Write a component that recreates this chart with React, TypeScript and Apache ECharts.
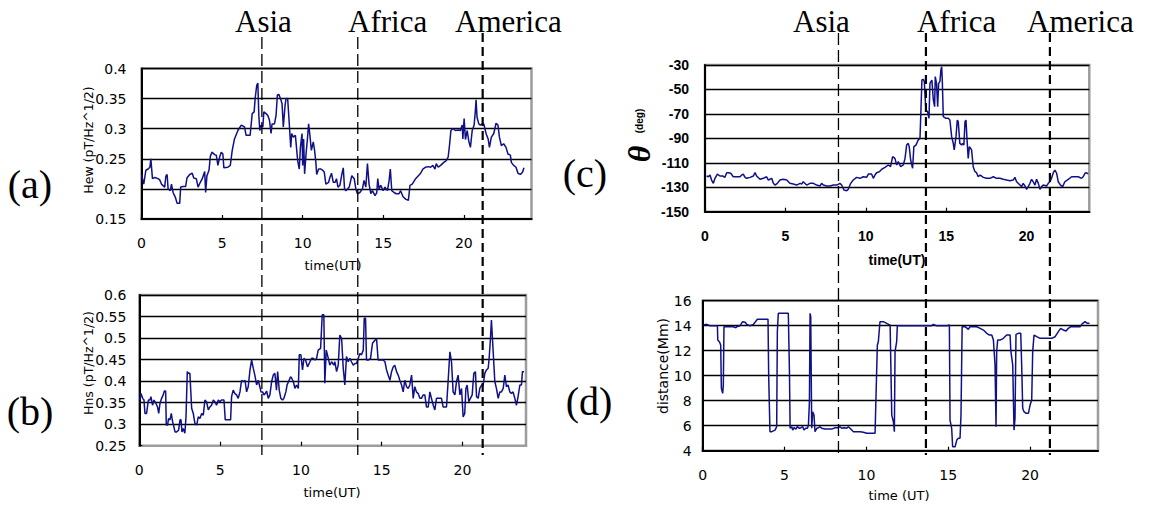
import React, { useEffect, useRef } from "react";
import * as echarts from "echarts";

// (a) Hew (pT/Hz^1/2) vs time (UT)
const hewData: [number, number][] = [
  [0, 0.224], [0.14, 0.208], [0.27, 0.231], [0.41, 0.233], [0.52, 0.236], [0.58, 0.25], [0.68, 0.217], [0.82, 0.219],
  [1.03, 0.217], [1.13, 0.215], [1.24, 0.208], [1.44, 0.203], [1.51, 0.221], [1.59, 0.224], [1.65, 0.2], [1.79, 0.197],
  [1.86, 0.208], [1.96, 0.194], [2.1, 0.186], [2.21, 0.176], [2.37, 0.176], [2.43, 0.203], [2.58, 0.204], [2.74, 0.204],
  [2.82, 0.218], [2.99, 0.224], [3.15, 0.226], [3.24, 0.218], [3.4, 0.217], [3.51, 0.203], [3.65, 0.211], [3.77, 0.217],
  [3.92, 0.229], [3.98, 0.194], [4.06, 0.222], [4.19, 0.231], [4.27, 0.254], [4.37, 0.261], [4.54, 0.257], [4.64, 0.256],
  [4.74, 0.239], [4.85, 0.253], [4.95, 0.261], [5.05, 0.258], [5.11, 0.235], [5.36, 0.236], [5.51, 0.239], [5.63, 0.264],
  [5.77, 0.283], [5.98, 0.297], [6.19, 0.306], [6.39, 0.303], [6.49, 0.289], [6.74, 0.289], [6.87, 0.325], [6.99, 0.328],
  [7.05, 0.35], [7.15, 0.372], [7.22, 0.376], [7.28, 0.322], [7.34, 0.297], [7.42, 0.306], [7.53, 0.303], [7.59, 0.328],
  [7.73, 0.325], [7.84, 0.322], [7.94, 0.314], [8.04, 0.292], [8.1, 0.308], [8.25, 0.308], [8.35, 0.322], [8.43, 0.356],
  [8.52, 0.357], [8.62, 0.35], [8.72, 0.342], [8.8, 0.303], [8.91, 0.339], [8.97, 0.35], [9.07, 0.35], [9.18, 0.304],
  [9.26, 0.269], [9.32, 0.292], [9.42, 0.286], [9.55, 0.289], [9.69, 0.247], [9.79, 0.233], [9.86, 0.269], [9.96, 0.292],
  [10.0, 0.239], [10.06, 0.283], [10.12, 0.225], [10.21, 0.258], [10.29, 0.281], [10.37, 0.308], [10.45, 0.289], [10.54, 0.264],
  [10.66, 0.278], [10.74, 0.264], [10.82, 0.244], [10.87, 0.224], [10.99, 0.233], [11.13, 0.233], [11.24, 0.231], [11.34, 0.228],
  [11.44, 0.208], [11.61, 0.211], [11.69, 0.219], [11.79, 0.226], [11.9, 0.211], [12.02, 0.211], [12.1, 0.217], [12.19, 0.203],
  [12.31, 0.206], [12.43, 0.224], [12.52, 0.235], [12.6, 0.2], [12.68, 0.197], [12.89, 0.203], [13.05, 0.222], [13.2, 0.217],
  [13.3, 0.2], [13.4, 0.192], [13.55, 0.194], [13.71, 0.2], [13.81, 0.214], [13.92, 0.203], [14.02, 0.242], [14.12, 0.208],
  [14.23, 0.192], [14.33, 0.197], [14.49, 0.189], [14.6, 0.194], [14.66, 0.217], [14.74, 0.2], [14.85, 0.206], [14.99, 0.197],
  [15.11, 0.203], [15.26, 0.197], [15.36, 0.213], [15.44, 0.233], [15.53, 0.197], [15.67, 0.194], [15.81, 0.192], [15.98, 0.192],
  [16.08, 0.197], [16.23, 0.187], [16.39, 0.183], [16.56, 0.181], [16.66, 0.206], [16.8, 0.208], [17.01, 0.217], [17.18, 0.222],
  [17.32, 0.226], [17.46, 0.233], [17.63, 0.236], [17.79, 0.237], [17.94, 0.236], [18.08, 0.239], [18.21, 0.233], [18.29, 0.242],
  [18.41, 0.236], [18.56, 0.239], [18.76, 0.244], [18.91, 0.247], [19.03, 0.253], [19.11, 0.272], [19.2, 0.297], [19.32, 0.3],
  [19.48, 0.297], [19.65, 0.298], [19.79, 0.297], [19.9, 0.306], [19.94, 0.283], [20.02, 0.317], [20.1, 0.282], [20.21, 0.297],
  [20.31, 0.279], [20.41, 0.269], [20.52, 0.297], [20.64, 0.306], [20.72, 0.331], [20.76, 0.348], [20.82, 0.319], [20.93, 0.308],
  [21.03, 0.306], [21.13, 0.308], [21.24, 0.308], [21.38, 0.292], [21.51, 0.283], [21.59, 0.269], [21.71, 0.286], [21.86, 0.292],
  [22.0, 0.309], [22.12, 0.306], [22.21, 0.286], [22.33, 0.272], [22.47, 0.275], [22.62, 0.269], [22.74, 0.258], [22.89, 0.256],
  [22.95, 0.244], [23.09, 0.239], [23.24, 0.236], [23.36, 0.226], [23.51, 0.224], [23.65, 0.228], [23.73, 0.235],
];

// (b) Hns (pT/Hz^1/2) vs time (UT)
const hnsData: [number, number][] = [
  [0.04, 0.356], [0.1, 0.371], [0.21, 0.36], [0.29, 0.356], [0.35, 0.325], [0.45, 0.325], [0.56, 0.356], [0.66, 0.356],
  [0.72, 0.364], [0.82, 0.344], [0.91, 0.356], [1.03, 0.348], [1.13, 0.34], [1.2, 0.325], [1.28, 0.348], [1.38, 0.36],
  [1.48, 0.368], [1.55, 0.377], [1.63, 0.377], [1.67, 0.298], [1.75, 0.298], [1.81, 0.313], [1.9, 0.31], [1.98, 0.325],
  [2.06, 0.306], [2.14, 0.294], [2.21, 0.282], [2.31, 0.282], [2.43, 0.286], [2.52, 0.31], [2.58, 0.31], [2.64, 0.282],
  [2.72, 0.29], [2.82, 0.279], [2.89, 0.317], [2.97, 0.422], [3.05, 0.418], [3.13, 0.418], [3.24, 0.337], [3.34, 0.325],
  [3.44, 0.302], [3.55, 0.298], [3.65, 0.317], [3.75, 0.313], [3.86, 0.325], [3.96, 0.321], [4.06, 0.356], [4.16, 0.352],
  [4.27, 0.333], [4.37, 0.34], [4.47, 0.344], [4.58, 0.356], [4.68, 0.352], [4.78, 0.344], [4.89, 0.356], [4.99, 0.352],
  [5.09, 0.356], [5.24, 0.356], [5.32, 0.31], [5.51, 0.31], [5.65, 0.31], [5.71, 0.364], [5.81, 0.379], [5.92, 0.371],
  [6.02, 0.368], [6.12, 0.36], [6.23, 0.375], [6.33, 0.402], [6.43, 0.399], [6.54, 0.402], [6.64, 0.375], [6.74, 0.387],
  [6.85, 0.426], [6.95, 0.449], [7.05, 0.43], [7.15, 0.414], [7.26, 0.391], [7.36, 0.402], [7.46, 0.387], [7.53, 0.375],
  [7.63, 0.375], [7.71, 0.368], [7.79, 0.371], [7.88, 0.377], [7.98, 0.36], [8.08, 0.368], [8.19, 0.399], [8.29, 0.414],
  [8.39, 0.418], [8.49, 0.379], [8.56, 0.422], [8.66, 0.379], [8.76, 0.36], [8.87, 0.356], [8.95, 0.36], [9.07, 0.375],
  [9.15, 0.392], [9.24, 0.399], [9.36, 0.41], [9.44, 0.406], [9.53, 0.399], [9.63, 0.383], [9.73, 0.391], [9.84, 0.383],
  [9.9, 0.461], [10.0, 0.461], [10.1, 0.426], [10.19, 0.453], [10.29, 0.449], [10.41, 0.433], [10.56, 0.445], [10.66, 0.453],
  [10.76, 0.453], [10.87, 0.449], [10.97, 0.453], [11.07, 0.472], [11.22, 0.476], [11.32, 0.554], [11.42, 0.554], [11.48, 0.395],
  [11.57, 0.472], [11.67, 0.457], [11.79, 0.437], [11.9, 0.445], [12.04, 0.437], [12.1, 0.445], [12.21, 0.422], [12.31, 0.437],
  [12.41, 0.507], [12.52, 0.499], [12.62, 0.43], [12.72, 0.391], [12.82, 0.457], [12.93, 0.445], [13.03, 0.453], [13.13, 0.445],
  [13.24, 0.437], [13.34, 0.441], [13.44, 0.441], [13.55, 0.453], [13.65, 0.464], [13.75, 0.461], [13.86, 0.472], [13.92, 0.546],
  [14.0, 0.546], [14.06, 0.449], [14.19, 0.449], [14.31, 0.453], [14.43, 0.488], [14.58, 0.495], [14.68, 0.499], [14.78, 0.449],
  [14.99, 0.449], [15.09, 0.449], [15.2, 0.445], [15.3, 0.426], [15.4, 0.414], [15.51, 0.402], [15.61, 0.422], [15.71, 0.433],
  [15.81, 0.437], [15.92, 0.422], [16.02, 0.414], [16.12, 0.402], [16.23, 0.391], [16.33, 0.375], [16.43, 0.402], [16.54, 0.387],
  [16.64, 0.383], [16.74, 0.391], [16.85, 0.414], [16.95, 0.36], [17.05, 0.387], [17.15, 0.375], [17.26, 0.371], [17.36, 0.36],
  [17.46, 0.36], [17.57, 0.368], [17.67, 0.368], [17.77, 0.34], [17.88, 0.34], [17.98, 0.375], [18.08, 0.36], [18.19, 0.344],
  [18.29, 0.333], [18.39, 0.36], [18.49, 0.36], [18.6, 0.36], [18.7, 0.36], [18.8, 0.34], [18.91, 0.34], [19.01, 0.34],
  [19.11, 0.399], [19.22, 0.468], [19.32, 0.445], [19.42, 0.375], [19.53, 0.368], [19.63, 0.399], [19.73, 0.414], [19.84, 0.368],
  [19.94, 0.383], [20.04, 0.317], [20.14, 0.325], [20.21, 0.383], [20.29, 0.391], [20.39, 0.352], [20.49, 0.36], [20.6, 0.368],
  [20.7, 0.418], [20.8, 0.422], [20.87, 0.364], [20.97, 0.36], [21.07, 0.383], [21.18, 0.391], [21.28, 0.391], [21.38, 0.418],
  [21.48, 0.426], [21.59, 0.43], [21.65, 0.453], [21.73, 0.499], [21.79, 0.542], [21.9, 0.468], [22.0, 0.399], [22.1, 0.383],
  [22.21, 0.36], [22.31, 0.375], [22.41, 0.375], [22.52, 0.383], [22.62, 0.414], [22.72, 0.387], [22.82, 0.391], [22.93, 0.375],
  [23.03, 0.371], [23.13, 0.375], [23.24, 0.36], [23.34, 0.344], [23.44, 0.364], [23.55, 0.391], [23.65, 0.391], [23.71, 0.422],
  [23.81, 0.422],
];

// (c) theta (deg) vs time (UT)
const thetaData: [number, number][] = [
  [0.1, -120.8], [0.21, -121.4], [0.31, -120.0], [0.41, -124.1], [0.52, -126.8], [0.62, -122.7], [0.77, -119.2], [0.93, -120.8],
  [1.1, -120.8], [1.24, -121.9], [1.35, -118.1], [1.45, -118.1], [1.6, -118.6], [1.76, -121.4], [1.97, -121.4], [2.18, -121.4],
  [2.28, -120.0], [2.38, -119.2], [2.49, -121.9], [2.59, -122.7], [2.8, -121.9], [3.01, -120.8], [3.11, -118.1], [3.21, -120.8],
  [3.42, -123.5], [3.63, -122.7], [3.83, -121.4], [3.94, -124.1], [4.15, -122.7], [4.25, -126.8], [4.35, -128.2], [4.5, -126.8],
  [4.66, -124.1], [4.87, -123.5], [5.08, -124.1], [5.28, -126.8], [5.49, -127.4], [5.7, -128.2], [5.91, -126.8], [6.01, -127.4],
  [6.11, -125.5], [6.32, -128.2], [6.53, -126.8], [6.74, -126.8], [6.94, -128.2], [7.15, -129.0], [7.25, -126.8], [7.36, -128.2],
  [7.56, -129.0], [7.77, -129.0], [7.98, -128.2], [8.19, -128.2], [8.39, -126.8], [8.5, -128.2], [8.64, -132.3], [8.81, -132.8],
  [8.91, -131.7], [9.06, -126.8], [9.22, -124.1], [9.43, -121.9], [9.64, -122.7], [9.84, -121.4], [10.05, -121.9], [10.16, -119.2],
  [10.36, -119.2], [10.47, -122.7], [10.57, -120.0], [10.67, -118.1], [10.84, -117.3], [10.98, -115.4], [11.19, -113.7], [11.4, -111.8],
  [11.54, -113.2], [11.67, -105.0], [11.81, -106.4], [11.92, -111.8], [12.02, -109.1], [12.17, -113.2], [12.33, -111.8], [12.44, -106.4],
  [12.54, -95.5], [12.64, -94.1], [12.7, -96.8], [12.79, -107.7], [12.91, -114.5], [12.99, -96.8], [13.12, -95.5], [13.26, -91.4],
  [13.37, -90.0], [13.43, -66.8], [13.49, -42.3], [13.58, -41.7], [13.64, -43.6], [13.7, -58.6], [13.74, -66.8], [13.84, -68.2],
  [13.93, -73.6], [13.99, -45.0], [14.05, -43.6], [14.11, -42.3], [14.2, -58.6], [14.28, -64.1], [14.32, -39.5], [14.4, -45.0],
  [14.47, -64.1], [14.53, -45.0], [14.61, -43.6], [14.67, -34.1], [14.72, -31.4], [14.76, -43.6], [14.82, -72.3], [14.98, -73.6],
  [15.13, -73.6], [15.23, -75.0], [15.34, -88.6], [15.44, -94.1], [15.5, -99.5], [15.61, -88.6], [15.69, -75.0], [15.75, -76.4],
  [15.85, -94.1], [15.96, -95.5], [16.02, -94.1], [16.1, -95.5], [16.17, -76.4], [16.23, -75.0], [16.31, -94.1], [16.37, -106.4],
  [16.44, -96.8], [16.52, -98.2], [16.58, -99.5], [16.68, -113.2], [16.79, -117.3], [16.89, -118.1], [16.99, -121.4], [17.1, -120.0],
  [17.2, -120.8], [17.31, -121.9], [17.51, -122.7], [17.72, -122.7], [17.93, -121.4], [18.13, -122.7], [18.34, -122.7], [18.55, -123.5],
  [18.76, -124.1], [18.96, -124.6], [19.17, -124.1], [19.27, -121.9], [19.38, -125.5], [19.59, -128.2], [19.69, -129.5], [19.79, -126.8],
  [19.9, -129.0], [20.0, -131.7], [20.1, -129.5], [20.21, -126.8], [20.31, -123.5], [20.41, -125.5], [20.52, -128.2], [20.62, -123.5],
  [20.73, -126.8], [20.83, -131.7], [20.93, -129.5], [21.04, -128.2], [21.24, -129.0], [21.35, -126.8], [21.45, -125.5], [21.55, -122.7],
  [21.66, -118.1], [21.76, -115.9], [21.87, -118.6], [21.97, -125.5], [22.11, -128.2], [22.24, -129.5], [22.38, -125.5], [22.59, -123.5],
  [22.8, -121.4], [23.01, -121.4], [23.21, -121.4], [23.42, -122.7], [23.52, -121.4], [23.63, -118.6], [23.73, -118.1], [23.83, -119.2],
];

// (d) distance (Mm) vs time (UT)
const distanceData: [number, number][] = [
  [0.04, 14.05], [0.24, 14.11], [0.45, 14.0], [0.75, 14.0], [0.9, 14.0], [0.92, 12.85], [1.02, 12.72], [1.1, 12.45],
  [1.14, 8.99], [1.22, 8.59], [1.26, 9.25], [1.3, 13.92], [1.47, 13.92], [1.87, 13.92], [2.04, 13.84], [2.08, 13.92],
  [2.28, 14.0], [2.44, 14.32], [2.59, 14.27], [2.69, 14.11], [2.89, 14.0], [3.1, 14.11], [3.2, 14.27], [3.34, 14.51],
  [3.6, 14.51], [3.91, 14.51], [3.99, 14.51], [4.03, 10.05], [4.11, 5.52], [4.22, 5.52], [4.42, 5.65], [4.52, 5.92],
  [4.56, 13.52], [4.62, 14.99], [4.73, 14.99], [5.13, 14.99], [5.23, 14.99], [5.3, 10.32], [5.34, 5.79], [5.44, 5.92],
  [5.5, 5.65], [5.58, 5.84], [5.7, 5.73], [5.78, 5.92], [5.91, 5.79], [6.01, 5.84], [6.11, 5.92], [6.19, 5.65],
  [6.29, 5.79], [6.4, 5.79], [6.46, 6.05], [6.52, 7.92], [6.56, 14.99], [6.6, 14.72], [6.66, 5.79], [6.72, 7.12],
  [6.8, 6.85], [6.86, 5.52], [6.97, 5.79], [7.07, 5.84], [7.17, 5.92], [7.27, 5.79], [7.47, 5.73], [7.68, 5.73],
  [7.88, 5.73], [8.09, 5.84], [8.29, 5.84], [8.39, 5.92], [8.49, 5.79], [8.64, 5.84], [8.8, 5.79], [8.9, 5.92],
  [9.0, 5.79], [9.21, 5.52], [9.41, 5.52], [9.61, 5.52], [9.82, 5.47], [10.02, 5.39], [10.22, 5.39], [10.43, 5.39],
  [10.53, 5.39], [10.59, 8.45], [10.67, 12.45], [10.73, 12.72], [10.83, 14.32], [11.04, 14.32], [11.24, 14.19], [11.45, 14.05],
  [11.55, 6.85], [11.65, 6.32], [11.71, 5.52], [11.75, 11.92], [11.85, 12.72], [11.89, 14.0], [12.06, 14.0], [12.5, 14.0],
  [13.0, 14.0], [13.5, 14.0], [13.99, 14.0], [14.09, 14.11], [14.26, 14.0], [14.91, 14.0], [15.07, 14.05], [15.11, 6.45],
  [15.21, 5.79], [15.27, 4.32], [15.42, 4.32], [15.52, 4.85], [15.62, 4.99], [15.72, 4.99], [15.78, 6.85], [15.85, 13.92],
  [16.03, 13.92], [16.23, 13.71], [16.33, 13.92], [16.54, 13.92], [16.74, 13.92], [16.95, 13.79], [17.15, 13.65], [17.35, 13.39],
  [17.52, 13.25], [17.66, 13.25], [17.76, 12.85], [17.86, 10.85], [17.92, 5.92], [17.96, 11.92], [18.02, 12.85], [18.17, 12.85],
  [18.37, 12.99], [18.57, 13.25], [18.78, 13.25], [18.82, 12.05], [18.94, 10.85], [19.02, 5.65], [19.08, 6.59], [19.14, 13.31],
  [19.29, 13.39], [19.43, 13.39], [19.49, 10.72], [19.55, 7.39], [19.63, 7.12], [19.76, 6.99], [19.9, 6.99], [20.0, 7.65],
  [20.1, 8.05], [20.16, 11.92], [20.24, 13.25], [20.41, 13.12], [20.61, 12.99], [20.92, 12.99], [21.12, 12.99], [21.32, 12.99],
  [21.53, 13.12], [21.73, 13.52], [21.87, 13.79], [22.04, 13.65], [22.2, 13.57], [22.34, 13.79], [22.48, 13.92], [22.65, 13.92],
  [22.85, 13.92], [23.05, 13.92], [23.22, 14.19], [23.36, 14.32], [23.5, 14.19], [23.63, 14.19],
];

const regionNames = ["Asia", "Africa", "America"];
const regionTimesLeft = [7.47, 13.42, 21.17];
const regionTimesRight = [8.3, 13.74, 21.45];

const panelLetters = ["(a)", "(b)", "(c)", "(d)"];

const LINE = "#101088";
const SANS = "DejaVu Sans";
const SERIF = "Liberation Serif";

export default function App() {
  const ref = useRef<HTMLDivElement>(null);

  useEffect(() => {
    if (!ref.current) return;
    const chart = echarts.init(ref.current, undefined, { renderer: "svg" });

    const grids = [
      { left: 141.5, top: 68.5, width: 390, height: 150.5 },
      { left: 139.3, top: 295, width: 386.7, height: 150.7 },
      { left: 705, top: 65, width: 384.3, height: 146.7 },
      { left: 702.7, top: 300.7, width: 395.3, height: 150 },
    ].map((g) => ({
      ...g,
      show: true,
      borderColor: "#9c9c9c",
      borderWidth: 2.5,
      backgroundColor: "transparent",
    }));

    const xMax = [24.2, 23.93, 23.9, 24.15];
    const bold = [false, false, true, false];
    const xLineShow = [true, false, true, true];

    const xAxes = xMax.map((mx, i) => ({
      type: "value",
      gridIndex: i,
      min: 0,
      max: mx,
      interval: 5,
      axisLine: { show: xLineShow[i], lineStyle: { color: "#000", width: 2 } },
      axisTick: { show: true, inside: true, length: 4, lineStyle: { color: "#000", width: 1.2 } },
      splitLine: { show: false },
      axisLabel: {
        margin: 17,
        showMaxLabel: false,
        color: "#000",
        fontFamily: bold[i] ? "Liberation Sans" : SANS,
        fontWeight: bold[i] ? "bold" : "normal",
        fontSize: 14,
        formatter: (v: number) => (Math.abs(v % 5) < 1e-9 ? String(v) : ""),
      },
    }));

    const yCfg = [
      { min: 0.15, max: 0.4, interval: 0.05, margin: 15 },
      { min: 0.25, max: 0.6, interval: 0.05, margin: 13 },
      { min: -150, max: -30, interval: 20, margin: 16 },
      { min: 4, max: 16, interval: 2, margin: 11 },
    ];
    const yAxes = yCfg.map((c, i) => ({
      type: "value",
      gridIndex: i,
      min: c.min,
      max: c.max,
      interval: c.interval,
      axisLine: { show: true, lineStyle: { color: "#000", width: 2 } },
      axisTick: { show: true, inside: true, length: 3, lineStyle: { color: "#000" } },
      splitLine: { show: true, showMinLine: false, lineStyle: { color: "#000", width: 1.4 } },
      axisLabel: {
        margin: c.margin,
        color: "#000",
        fontFamily: bold[i] ? "Liberation Sans" : SANS,
        fontWeight: bold[i] ? "bold" : "normal",
        fontSize: 14,
        formatter: (v: number) => String(Math.round(v * 1000) / 1000),
      },
    }));

    const datasets = [hewData, hnsData, thetaData, distanceData];
    const series = datasets.map((d, i) => ({
      type: "line",
      xAxisIndex: i,
      yAxisIndex: i,
      data: d,
      showSymbol: false,
      symbol: "none",
      lineStyle: { color: LINE, width: 1.5 },
      z: 3,
    }));

    chart.setOption({
      animation: false,
      backgroundColor: "#fff",
      grid: grids,
      xAxis: xAxes,
      yAxis: yAxes,
      series,
    });

    const leftX = regionTimesLeft.map((t) => chart.convertToPixel({ xAxisIndex: 0 }, t) as number);
    const rightX = regionTimesRight.map((t) => chart.convertToPixel({ xAxisIndex: 2 }, t) as number);

    const txt = (text: string, x: number, y: number, extra: any = {}, rotation = 0) => ({
      type: "text",
      x,
      y,
      rotation,
      z: 10,
      style: {
        text,
        fill: "#000",
        align: "center",
        verticalAlign: "middle",
        fontFamily: SANS,
        fontSize: 13,
        ...extra,
      },
    });

    const dash = (x: number, y1: number, y2: number, thick: boolean) => ({
      type: "line",
      z: 20,
      shape: { x1: x, y1, x2: x, y2 },
      style: {
        stroke: "#000",
        lineWidth: thick ? 2.2 : 1.3,
        lineDash: thick ? [9, 5] : [12, 5],
      },
    });

    const letterPos = [
      [30, 184],
      [30, 411],
      [585, 173],
      [589, 401],
    ];
    const regionLeftPos = [235, 348, 455];
    const regionRightPos = [793, 917, 1027];

    const graphics: any[] = [
      ...panelLetters.map((l, i) =>
        txt(l, letterPos[i][0], letterPos[i][1], { fontFamily: SERIF, fontSize: 40 })
      ),
      ...regionNames.map((n, i) =>
        txt(n, regionLeftPos[i], 21.5, { fontFamily: SERIF, fontSize: 31, align: "left" })
      ),
      ...regionNames.map((n, i) =>
        txt(n, regionRightPos[i], 21.5, { fontFamily: SERIF, fontSize: 31, align: "left" })
      ),
      txt("time(UT)", 333, 265, { fontSize: 13 }),
      txt("time(UT)", 332, 492, { fontSize: 13 }),
      txt("time(UT)", 897, 260, { fontFamily: "Liberation Sans", fontWeight: "bold", fontSize: 14 }),
      txt("time (UT)", 899, 495, { fontSize: 13 }),
      txt("Hew (pT/Hz^1/2)", 88, 140, { fontSize: 12.5 }, Math.PI / 2),
      txt("Hns (pT/Hz^1/2)", 88, 363, { fontSize: 12.5 }, Math.PI / 2),
      txt("distance(Mm)", 663, 366, { fontSize: 14 }, Math.PI / 2),
      txt("θ", 639, 154, { fontFamily: SERIF, fontSize: 32, fontStyle: "italic", fontWeight: "bold" }, Math.PI / 2),
      txt("(deg)", 639, 121, { fontFamily: "Liberation Sans", fontSize: 10, fontWeight: "bold" }, Math.PI / 2),
      dash(leftX[0], 37, 455, false),
      dash(leftX[1], 37, 455, false),
      dash(leftX[2], 33, 455, true),
      dash(rightX[0], 33, 455, false),
      dash(rightX[1], 33, 455, true),
      dash(rightX[2], 33, 455, true),
    ];

    chart.setOption({ graphic: graphics });

    return () => chart.dispose();
  }, []);

  return (
    <div
      ref={ref}
      style={{ position: "absolute", left: 0, top: 0, width: 1154, height: 506 }}
    />
  );
}
